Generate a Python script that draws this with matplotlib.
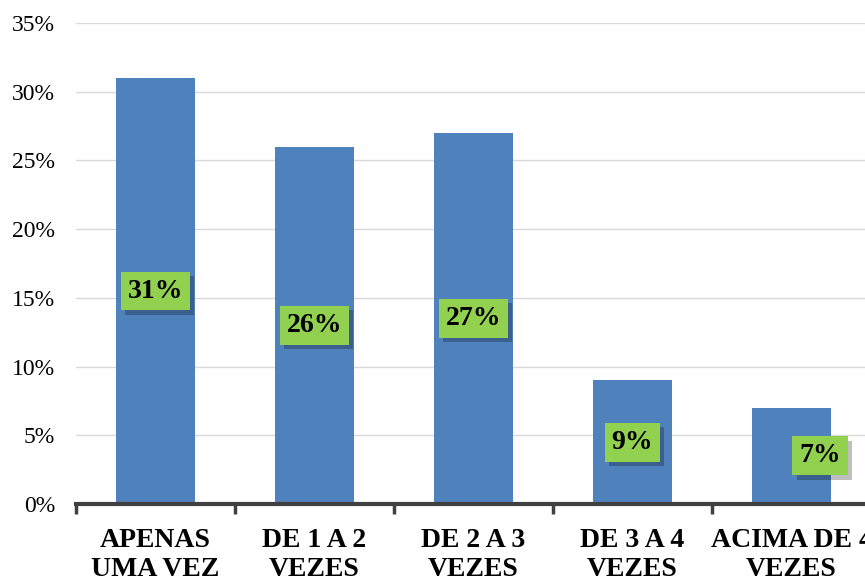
import matplotlib.pyplot as plt
import matplotlib.patheffects as pe
import numpy as np

categories = ["APENAS\nUMA VEZ", "DE 1 A 2\nVEZES", "DE 2 A 3\nVEZES", "DE 3 A 4\nVEZES", "ACIMA DE 4\nVEZES"]
values = [31, 26, 27, 9, 7]
labels = ["31%", "26%", "27%", "9%", "7%"]

plt.rcParams['font.family'] = 'Liberation Serif'

fig = plt.figure(figsize=(8.65, 5.76), dpi=100)
ax = fig.add_axes([0.0879, 0.125, 0.919, 0.835])

x = np.arange(len(values))
ax.bar(x, values, width=0.5, color="#4F81BD", zorder=2)

# data labels in green boxes, centred on the bar (last one nudged right like the original)
offsets = [0, 0, 0, 0, 0.18]
for xi, v, lab, off in zip(x, values, labels, offsets):
    t = ax.text(xi + off, v / 2, lab, ha="center", va="center", fontsize=20,
                fontweight="bold", zorder=4,
                bbox=dict(boxstyle="square,pad=0.25", fc="#92D050", ec="none"))
    t.get_bbox_patch().set_path_effects([
        pe.SimplePatchShadow(offset=(3, -3), shadow_rgbFace="black", alpha=0.25),
        pe.Normal()])

ax.set_xlim(-0.5, len(values) - 0.5)
ax.set_ylim(0, 35)
ax.set_yticks(range(0, 36, 5))
ax.set_yticklabels([f"{t}%" for t in range(0, 36, 5)], fontsize=17)
ax.yaxis.grid(True, color="#D9D9D9", linewidth=1, zorder=0)
ax.set_axisbelow(True)

ax.set_xticks(x)
ax.set_xticklabels(categories, fontsize=20, fontweight="bold", linespacing=1.25)
ax.set_xticks(np.arange(-0.5, len(values), 1), minor=True)
ax.tick_params(axis="x", which="major", length=0, pad=17)
ax.tick_params(axis="x", which="minor", length=7, width=2.5, color="#404040", direction="out")
ax.tick_params(axis="y", length=0, pad=15)

for s in ["top", "right", "left"]:
    ax.spines[s].set_visible(False)
ax.spines["bottom"].set_color("#404040")
ax.spines["bottom"].set_linewidth(3)

fig.savefig("out.png", dpi=100)
